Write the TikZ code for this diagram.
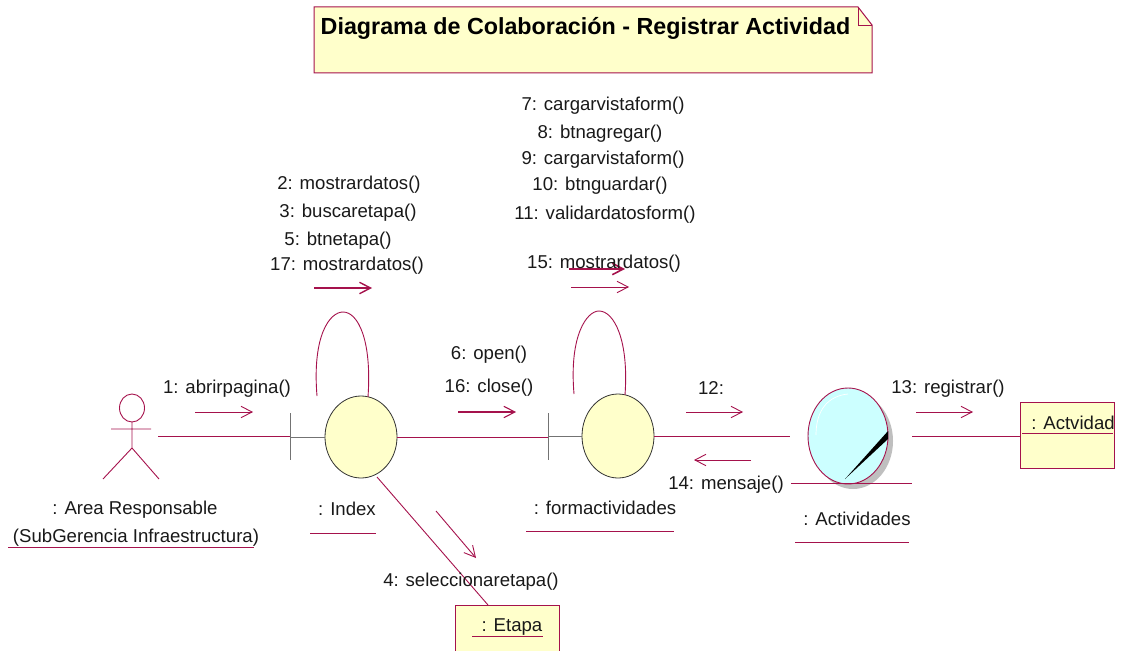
\documentclass[tikz,border=0pt]{standalone}
\usepackage{fontspec}
\setmainfont{Liberation Sans}
\usetikzlibrary{arrows.meta,shapes.geometric}
\definecolor{umlred}{HTML}{A5124C}
\definecolor{umlfill}{HTML}{FFFFCB}
\definecolor{umlcyan}{HTML}{CCFFFF}
\tikzset{
  x=1pt,y=-1pt,
  lbl/.style={inner sep=0pt,font=\fontsize{18.6}{20}\selectfont,text=black!90},
  wire/.style={draw=umlred,line width=0.9pt},
  msg/.style={draw=umlred,line width=0.9pt,-{Straight Barb[length=11pt,width=16pt,angle'=55]}},
  objball/.style={ellipse,draw=black!80,fill=umlfill,line width=0.8pt,inner sep=0pt},
  box/.style={draw=umlred,fill=umlfill,line width=1pt,inner sep=0pt},
}
\begin{document}
\begin{tikzpicture}
\useasboundingbox (0,0) rectangle (1123,650);
% note
\filldraw[draw=umlred,fill=umlfill,line width=1pt] (314,7) -- (858,7) -- (872,25) -- (872,73) -- (314,73) -- cycle;
\draw[draw=umlred,line width=0.8pt] (858,7) -- (858,25) -- (872,25);
\node[anchor=west,inner sep=0pt,font=\bfseries\fontsize{23.3}{26}\selectfont] (title) at (320.5,28.5) {Diagrama de Colaboración - Registrar Actividad};
% objects
\node[objball,minimum width=72pt,minimum height=82pt] (index) at (361,437) {};
\node[objball,minimum width=72pt,minimum height=84pt] (forma) at (618,436) {};
\fill[black!25] (853,441) ellipse [x radius=40,y radius=48];
\node[ellipse,draw=umlred,fill=umlcyan,line width=0.9pt,inner sep=0pt,minimum width=80pt,minimum height=96pt] (activ) at (848,436) {};
\fill[black] (845,479) -- (888,431) -- (888,439) -- cycle;
\draw[white,line width=0.7pt] (816,435) .. controls (816,410) and (828,396) .. (848,394);
\node[box,minimum width=94pt,minimum height=66pt] (actv) at (1067,435) {};
\node[box,anchor=north west,minimum width=104pt,minimum height=60pt] (etapa) at (455,605) {};
% boundary adornments
\coordinate (bar1t) at (290,413); \coordinate (bar1b) at (290,460);
\coordinate (bar2t) at (548,413); \coordinate (bar2b) at (548,460);
\draw[black!55,line width=0.9pt] (bar1t) -- (bar1b);
\draw[black!55,line width=0.9pt] (bar2t) -- (bar2b);
\draw[black!55,line width=0.9pt] (index.west) -- (index.west -| bar1t);
\draw[black!55,line width=0.9pt] (forma.west) -- (forma.west -| bar2t);
% actor
\draw[wire] (132,408) ellipse [x radius=12.5,y radius=14];
\draw[wire] (111,429) -- (151,429) (132,422) -- (132,448) -- (103,479) (132,448) -- (159,479);
% links
\coordinate (actorR) at (158,436);
\coordinate (activL) at (790,436);
\coordinate (activR) at (912,436);
\draw[wire] (actorR) -- (actorR -| bar1t);
\draw[wire] (index.east) -- (index.east -| bar2t);
\draw[wire] (forma.east) -- (activL);
\draw[wire] (activR) -- (activR -| actv.west);
\coordinate (idxlow) at (377,477);
\coordinate (etapatop) at (488,605);
\draw[wire] (idxlow) -- (etapatop);
% self loops
\coordinate (l1a) at (317,396); \coordinate (l1b) at (368,397);
\coordinate (l2a) at (574,394); \coordinate (l2b) at (625,395);
\draw[wire] (l1a) .. controls (312,335) and (330,312) .. (343,312) .. controls (358,312) and (372,340) .. (l1b);
\draw[wire] (l2a) .. controls (569,335) and (587,311) .. (599,311) .. controls (614,311) and (629,340) .. (l2b);
% message arrows
\foreach \n/\ax/\ay/\bx/\by/\lw in {a/195/412/253/412/0.9,b/314/288/372/288/1.4,c/458/412/516/412/1.1,d/569/269/625/269/1.6,e/571/287/629/287/0.9,f/686/412/743/412/0.9,g/751/460/694/460/0.9,h/916/412/973/412/0.9,i/436/511/476/558/0.9}{
  \coordinate (\n s) at (\ax,\ay); \coordinate (\n e) at (\bx,\by);
  \draw[msg,line width=\lw pt] (\n s) -- (\n e);
}
% lower line and underlines
\coordinate (u0a) at (791,483); \coordinate (u0b) at (912,483);
\draw[wire] (u0a) -- (u0b);
\coordinate (ua1) at (8,547); \coordinate (ub1) at (254,547); \draw[wire] (ua1) -- (ub1);
\coordinate (ua2) at (310,533); \coordinate (ub2) at (376,533); \draw[wire] (ua2) -- (ub2);
\coordinate (ua3) at (526,531); \coordinate (ub3) at (674,531); \draw[wire] (ua3) -- (ub3);
\coordinate (ua4) at (795,542); \coordinate (ub4) at (909,542); \draw[wire] (ua4) -- (ub4);
\coordinate (ua5) at (1022,433); \coordinate (ub5) at (1113,433); \draw[wire] (ua5) -- (ub5);
\coordinate (ua6) at (472,636); \coordinate (ub6) at (543,636); \draw[wire] (ua6) -- (ub6);
% labels
\node[lbl] (t7) at (603,106) {7: cargarvistaform()};
\node[lbl] (t8) at (600,134) {8: btnagregar()};
\node[lbl] (t9) at (603,160) {9: cargarvistaform()};
\node[lbl] (t10) at (600,186) {10: btnguardar()};
\node[lbl] (t11) at (605,215) {11: validardatosform()};
\node[lbl] (t15) at (604,264) {15: mostrardatos()};
\node[lbl] (t2) at (349,185) {2: mostrardatos()};
\node[lbl] (t3) at (348,213) {3: buscaretapa()};
\node[lbl] (t5) at (338,241) {5: btnetapa()};
\node[lbl] (t17) at (347,266) {17: mostrardatos()};
\node[lbl] (t1) at (227,389) {1: abrirpagina()};
\node[lbl] (t6) at (489,355) {6: open()};
\node[lbl] (t16) at (489,388) {16: close()};
\node[lbl] (t12) at (711,388) {12:};
\node[lbl] (t13) at (948,389) {13: registrar()};
\node[lbl] (t14) at (726,485) {14: mensaje()};
\node[lbl] (t4) at (471,582) {4: seleccionaretapa()};
\node[lbl] (nA) at (135,510) {: Area Responsable};
\node[lbl] (nB) at (136,538) {(SubGerencia Infraestructura)};
\node[lbl] (nI) at (347,509) {: Index};
\node[lbl] (nF) at (605,508) {: formactividades};
\node[lbl] (nC) at (857,519) {: Actividades};
\node[lbl] (nV) at (1073,423) {: Actvidad};
\node[lbl] (nE) at (512,627) {: Etapa};
\end{tikzpicture}
\end{document}
